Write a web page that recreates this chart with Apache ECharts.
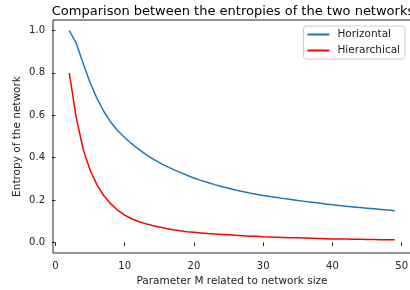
<!DOCTYPE html>
<html>
<head>
<meta charset="utf-8">
<script src="https://cdn.jsdelivr.net/npm/echarts@6/dist/echarts.min.js"></script>
<style>
  html, body { margin: 0; padding: 0; background: #fff; }
  #chart { width: 410px; height: 290px; }
</style>
</head>
<body>
<div id="chart"></div>
<script>
// values
var mValues = [];
for (var m = 2; m <= 49; m++) mValues.push(m)

var horizontal = [
  1.000, 0.940, 0.845, 0.755, 0.680, 0.618, 0.567, 0.527, 0.495, 0.466,
  0.440, 0.417, 0.396, 0.377, 0.360, 0.345, 0.331, 0.317, 0.304, 0.293,
  0.283, 0.273, 0.264, 0.256, 0.248, 0.241, 0.234, 0.228, 0.222, 0.217,
  0.212, 0.207, 0.203, 0.198, 0.194, 0.190, 0.186, 0.182, 0.178, 0.175,
  0.171, 0.168, 0.165, 0.162, 0.159, 0.156, 0.153, 0.150
]
var hierarchical = [
  0.800, 0.590, 0.440, 0.342, 0.272, 0.220, 0.182, 0.152, 0.129, 0.112,
  0.099, 0.089, 0.080, 0.073, 0.066, 0.060, 0.055, 0.051, 0.048, 0.045,
  0.042, 0.040, 0.038, 0.036, 0.034, 0.032, 0.030, 0.029, 0.027, 0.026,
  0.025, 0.024, 0.023, 0.022, 0.021, 0.020, 0.019, 0.018, 0.017, 0.0165,
  0.016, 0.0155, 0.015, 0.0145, 0.014, 0.0135, 0.013, 0.0125
]
var xTicks = [0, 10, 20, 30, 40, 50]
var yTicks = [0, 0.2, 0.4, 0.6, 0.8, 1.0]

function pairs(ys) {
  return mValues.map(function (x, i) { return [x, ys[i]] })
}

var font = 'DejaVu Sans'
var chart = echarts.init(document.getElementById('chart'))
chart.setOption({
  animation: false,
  textStyle: { fontFamily: font },
  title: {
    text: 'Comparison between the entropies of the two networks',
    left: 228,
    textAlign: 'center',
    top: 0,
    textStyle: { fontFamily: font, fontSize: 13, fontWeight: 'normal', color: '#000' },
  },
  grid: {
    left: 53,
    right: -1,
    top: 20,
    bottom: 37,
    show: true,
    borderColor: '#222',
    borderWidth: 1,
    outerBoundsMode: 'none',
  },
  legend: {
    orient: 'vertical',
    right: 5,
    top: 26,
    icon: 'rect',
    itemWidth: 22,
    itemHeight: 2,
    itemGap: 5,
    padding: [3, 5, 3, 4],
    borderColor: '#ccc',
    borderWidth: 1,
    borderRadius: 3,
    backgroundColor: 'rgba(255,255,255,0.8)',
    textStyle: { fontFamily: font, fontSize: 10.5, color: '#222', padding: [0, 0, 0, 3] },
    data: ['Horizontal', 'Hierarchical'],
  },
  xAxis: {
    type: 'value',
    min: -0.35,
    max: 51.35,
    name: 'Parameter M related to network size',
    nameLocation: 'middle',
    nameGap: 23,
    nameMoveOverlap: false,
    nameTextStyle: { fontFamily: font, fontSize: 10.5, color: '#222' },
    splitLine: { show: false },
    axisLine: { show: false },
    axisTick: { show: true, length: 3.5, customValues: xTicks, lineStyle: { color: '#222' } },
    axisLabel: { customValues: xTicks, margin: 8, fontSize: 10, color: '#222', fontFamily: font },
  },
  yAxis: {
    type: 'value',
    min: -0.0495,
    max: 1.0495,
    name: 'Entropy of the network',
    nameLocation: 'middle',
    nameGap: 30,
    nameMoveOverlap: false,
    nameTextStyle: { fontFamily: font, fontSize: 10.5, color: '#222' },
    splitLine: { show: false },
    axisLine: { show: false },
    axisTick: { show: true, length: 3.5, customValues: yTicks, lineStyle: { color: '#222' } },
    axisLabel: {
      customValues: yTicks,
      margin: 8,
      fontSize: 10,
      color: '#222',
      fontFamily: font,
      formatter: function (v) { return v.toFixed(1) },
    },
  },
  series: [
    {
      name: 'Horizontal',
      type: 'line',
      data: pairs(horizontal),
      showSymbol: false,
      itemStyle: { color: '#1f77b4' },
      lineStyle: { color: '#1f77b4', width: 1.5 },
    },
    {
      name: 'Hierarchical',
      type: 'line',
      data: pairs(hierarchical),
      showSymbol: false,
      itemStyle: { color: '#ff0000' },
      lineStyle: { color: '#ff0000', width: 1.5 },
    },
  ],
})
</script>
</body>
</html>
